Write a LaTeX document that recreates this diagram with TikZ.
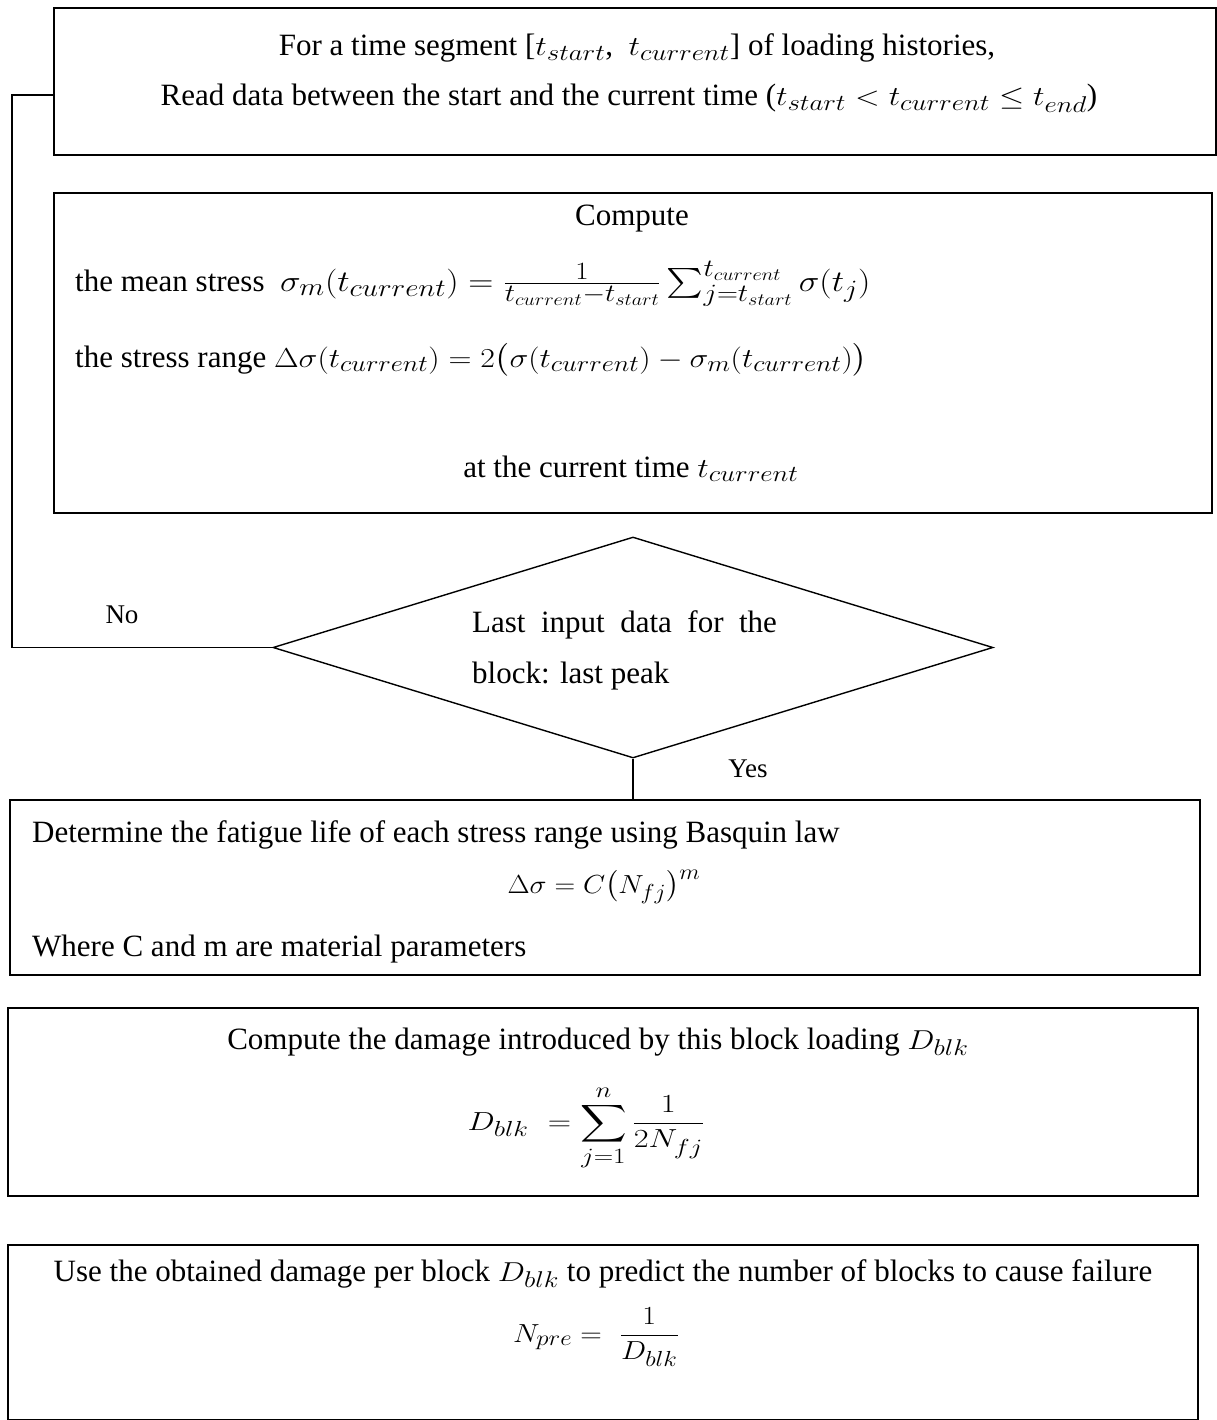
\documentclass[tikz,border=0pt]{standalone}
\usepackage{amsmath}
\usepackage{graphicx}
\usepackage{fontspec}
\setmainfont{Liberation Serif}
\usetikzlibrary{shapes.geometric}
\newcommand{\mx}[1]{\scalebox{1.3}[1.1]{$#1$}}
\begin{document}
\begin{tikzpicture}[x=1pt,y=-1pt,
  box/.style={draw,line width=1.6pt,rectangle,inner sep=0pt},
  txt/.style={inner sep=0pt,font=\fontsize{31}{36}\selectfont},
  lbl/.style={inner sep=0pt,font=\fontsize{27}{32}\selectfont},
  conn/.style={line width=1.3pt}]
\useasboundingbox (0,0) rectangle (1216,1420);
% boxes
\node[box,minimum width=1162pt,minimum height=147pt] (b1) at (635,81.5) {};
\node[box,minimum width=1158pt,minimum height=320pt] (b2) at (633,353) {};
\node[box,diamond,aspect=3.25,minimum width=720pt,minimum height=221pt,line width=1.4pt] (d) at (633,647.5) {};
\node[box,minimum width=1190pt,minimum height=175pt] (b3) at (605,887.5) {};
\node[box,minimum width=1190pt,minimum height=188pt] (b4) at (603,1102) {};
\node[box,minimum width=1190pt,minimum height=175pt] (b5) at (603,1332.5) {};
% box 1 text
\node[txt,anchor=base] (t1a) at (637,56) {For a time segment [\mx{t_{start}},\ \ \mx{t_{current}}] of loading histories,};
\node[txt,anchor=base] (t1b) at (629,106) {Read data between the start and the current time (\mx{t_{start} < t_{current} \leq t_{end}})};
% box 2 text
\node[txt,anchor=base] (t2a) at (632,226) {Compute};
\node[txt,anchor=base west] (t2b) at (75,291) {the mean stress \ \scalebox{1.4}[1.2]{$\sigma_m(t_{current}) = \frac{1}{t_{current}-t_{start}}\sum_{j=t_{start}}^{t_{current}}\sigma(t_j)$}};
\node[txt,anchor=base west] (t2c) at (75,367) {the stress range \scalebox{1.28}[1.1]{$\Delta\sigma(t_{current}) = 2\bigl(\sigma(t_{current}) - \sigma_m(t_{current})\bigr)$}};
\node[txt,anchor=base] (t2d) at (631,477) {at the current time \mx{t_{current}}};
% diamond text
\node[txt,anchor=base west] (dt1) at (472,632) {Last \ input \ data \ for \ the};
\node[txt,anchor=base west] (dt2) at (472,683) {block: last peak};
% box 3 text
\node[txt,anchor=base west] (t3a) at (32,842) {Determine the fatigue life of each stress range using Basquin law};
\node[txt,anchor=base] (t3b) at (604,893) {\scalebox{1.15}[1.05]{$\Delta\sigma = C\bigl(N_{fj}\bigr)^m$}};
\node[txt,anchor=base west] (t3c) at (32,956) {Where C and m are material parameters};
% box 4 text
\node[txt,anchor=base] (t4a) at (598,1049) {Compute the damage introduced by this block loading \mx{D_{blk}}};
\node[txt,anchor=base] (t4b) at (586,1130) {\scalebox{1.3}[1.05]{$\displaystyle D_{blk}\ = \sum_{j=1}^{n}\frac{1}{2N_{fj}}$}};
% box 5 text
\node[txt,anchor=base] (t5a) at (603,1281) {Use the obtained damage per block \mx{D_{blk}} to predict the number of blocks to cause failure};
\node[txt,anchor=base] (t5b) at (596,1342) {\scalebox{1.2}[1.05]{$\displaystyle N_{pre} = \ \frac{1}{D_{blk}}$}};
% connectors
\coordinate (fb) at (12,95);
\draw[conn] (d.west) -| (fb) -- (fb -| b1.west);
\draw[conn] (d.south) -- (d.south |- b3.north);
\node[lbl,anchor=base] (no) at (122,623) {No};
\node[lbl,anchor=base] (yes) at (748,777) {Yes};
\end{tikzpicture}
\end{document}
